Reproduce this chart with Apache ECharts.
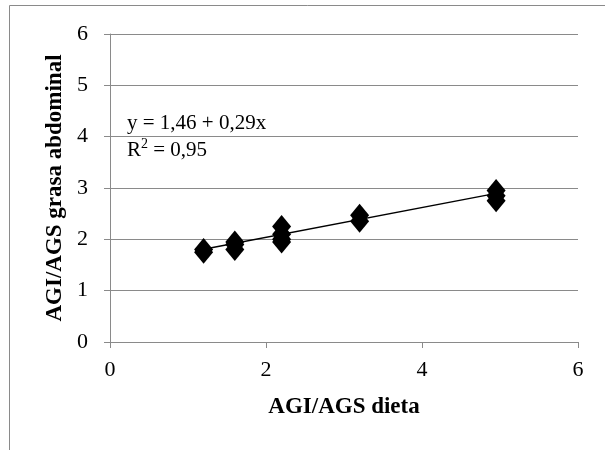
<!DOCTYPE html>
<html>
<head>
<meta charset="utf-8">
<script src="https://cdn.jsdelivr.net/npm/echarts@6/dist/echarts.min.js"></script>
<style>html,body{margin:0;padding:0;background:#fff;}#c{width:605px;height:450px;}</style>
</head>
<body>
<div id="c"></div>
<script>
// Data
var xValues = [1.2, 1.2, 1.6, 1.6, 1.6, 2.2, 2.2, 2.2, 2.2, 3.2, 3.2, 4.95, 4.95, 4.95];
var yValues = [1.75, 1.8, 1.95, 1.9, 1.8, 2.25, 2.1, 2.0, 1.95, 2.47, 2.35, 2.95, 2.85, 2.75];
var xTicks = [0, 2, 4, 6];
var yTicks = [0, 1, 2, 3, 4, 5, 6];
var trendIntercept = 1.46;
var trendSlope = 0.29;
var equationText = 'y = 1,46 + 0,29x';
var r2Text = ' = 0,95';
var xTitle = 'AGI/AGS dieta';
var yTitle = 'AGI/AGS grasa abdominal';

var points = xValues.map(function (x, i) { return [x, yValues[i]]; });
var xMin = Math.min.apply(null, xValues), xMax = Math.max.apply(null, xValues);
var trend = [[xMin, trendIntercept + trendSlope * xMin], [xMax, trendIntercept + trendSlope * xMax]];

var FONT = '"Liberation Serif", "Times New Roman", serif';
var GRAY = '#8a8a8a';

var chart = echarts.init(document.getElementById('c'), null, {renderer: 'canvas'});
chart.setOption({
  animation: false,
  backgroundColor: '#fff',
  grid: {left: 110, top: 34, right: 27, bottom: 108, containLabel: false},
  xAxis: {
    type: 'value', min: xTicks[0], max: xTicks[xTicks.length - 1], interval: xTicks[1] - xTicks[0],
    name: xTitle, nameLocation: 'middle', nameGap: 54,
    nameTextStyle: {fontFamily: FONT, fontSize: 23, fontWeight: 'bold', color: '#000'},
    axisLine: {show: true, lineStyle: {color: GRAY, width: 1}},
    axisTick: {show: true, inside: false, length: 6, lineStyle: {color: GRAY}},
    axisLabel: {fontFamily: FONT, fontSize: 22, color: '#000', margin: 17},
    splitLine: {show: false}
  },
  yAxis: {
    type: 'value', min: yTicks[0], max: yTicks[yTicks.length - 1], interval: yTicks[1] - yTicks[0],
    name: yTitle, nameLocation: 'middle', nameGap: 42,
    nameTextStyle: {fontFamily: FONT, fontSize: 23, fontWeight: 'bold', color: '#000'},
    axisLine: {show: true, lineStyle: {color: GRAY, width: 1}},
    axisTick: {show: true, inside: false, length: 6, lineStyle: {color: GRAY}},
    axisLabel: {fontFamily: FONT, fontSize: 22, color: '#000', margin: 22},
    splitLine: {show: true, lineStyle: {color: GRAY, width: 1}}
  },
  graphic: [
    {type: 'rect', silent: true, z: -1, shape: {x: 9.5, y: 5.5, width: 640, height: 500},
     style: {fill: null, stroke: '#8a8a8a', lineWidth: 1}},
    {type: 'text', left: 127, top: 113, z: 10,
     style: {text: equationText, font: '21px ' + FONT, fill: '#000'}},
    {type: 'text', left: 127, top: 137, z: 10,
     style: {text: '{r|R}{s|2}{r|' + r2Text + '}', font: '21px ' + FONT, fill: '#000',
       rich: {r: {fontFamily: FONT, fontSize: 21, color: '#000', verticalAlign: 'bottom', lineHeight: 24},
              s: {fontFamily: FONT, fontSize: 14, color: '#000', verticalAlign: 'top', lineHeight: 24}}}}
  ],
  series: [
    {type: 'scatter', data: points, symbol: 'diamond', symbolSize: [19, 23],
     itemStyle: {color: '#000', opacity: 1}, z: 3},
    {type: 'line', data: trend, symbol: 'none', lineStyle: {color: '#000', width: 1.5}, z: 4}
  ]
});
</script>
</body>
</html>
